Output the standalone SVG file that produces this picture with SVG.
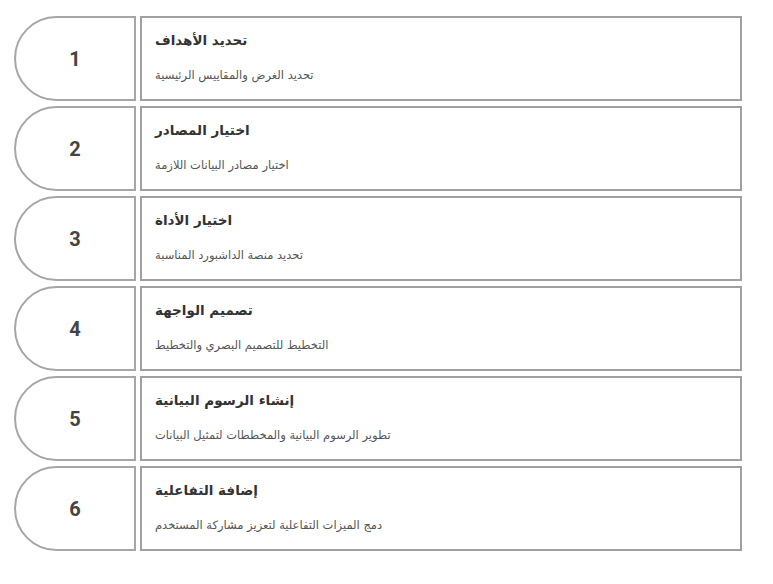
<svg xmlns="http://www.w3.org/2000/svg" width="773" height="584" viewBox="0 0 773 584">
<style>
.pill{fill:#fff;stroke:#a6a6a6;stroke-width:2}
.box{fill:#fff;stroke:#a0a0a0;stroke-width:2}
.num{font-family:Roboto,"Liberation Sans",sans-serif;font-weight:bold;font-size:20px;fill:#444;text-anchor:middle}
.title{font-family:"DejaVu Sans",sans-serif;font-weight:bold;font-size:13.5px;fill:#333}
.sub{font-family:"DejaVu Sans",sans-serif;font-size:11.5px;fill:#555}
</style>
<rect width="773" height="584" fill="#fff"/>
<g id="connectors"></g>
<g id="step1" transform="translate(0,0)">
<path class="pill" d="M135,17 V100 H56.5 A41.5,41.5 0 0 1 56.5,17 Z"/>
<rect class="box" x="141" y="17" width="600" height="83"/>
<text class="num" x="75" y="65.5">1</text>
<text class="title" x="155" y="45">تحديد الأهداف</text>
<text class="sub" x="155" y="79">تحديد الغرض والمقاييس الرئيسية</text>
</g>
<g id="step2" transform="translate(0,90)">
<path class="pill" d="M135,17 V100 H56.5 A41.5,41.5 0 0 1 56.5,17 Z"/>
<rect class="box" x="141" y="17" width="600" height="83"/>
<text class="num" x="75" y="65.5">2</text>
<text class="title" x="155" y="45">اختيار المصادر</text>
<text class="sub" x="155" y="79">اختيار مصادر البيانات اللازمة</text>
</g>
<g id="step3" transform="translate(0,180)">
<path class="pill" d="M135,17 V100 H56.5 A41.5,41.5 0 0 1 56.5,17 Z"/>
<rect class="box" x="141" y="17" width="600" height="83"/>
<text class="num" x="75" y="65.5">3</text>
<text class="title" x="155" y="45">اختيار الأداة</text>
<text class="sub" x="155" y="79">تحديد منصة الداشبورد المناسبة</text>
</g>
<g id="step4" transform="translate(0,270)">
<path class="pill" d="M135,17 V100 H56.5 A41.5,41.5 0 0 1 56.5,17 Z"/>
<rect class="box" x="141" y="17" width="600" height="83"/>
<text class="num" x="75" y="65.5">4</text>
<text class="title" x="155" y="45">تصميم الواجهة</text>
<text class="sub" x="155" y="79">التخطيط للتصميم البصري والتخطيط</text>
</g>
<g id="step5" transform="translate(0,360)">
<path class="pill" d="M135,17 V100 H56.5 A41.5,41.5 0 0 1 56.5,17 Z"/>
<rect class="box" x="141" y="17" width="600" height="83"/>
<text class="num" x="75" y="65.5">5</text>
<text class="title" x="155" y="45">إنشاء الرسوم البيانية</text>
<text class="sub" x="155" y="79">تطوير الرسوم البيانية والمخططات لتمثيل البيانات</text>
</g>
<g id="step6" transform="translate(0,450)">
<path class="pill" d="M135,17 V100 H56.5 A41.5,41.5 0 0 1 56.5,17 Z"/>
<rect class="box" x="141" y="17" width="600" height="83"/>
<text class="num" x="75" y="65.5">6</text>
<text class="title" x="155" y="45">إضافة التفاعلية</text>
<text class="sub" x="155" y="79">دمج الميزات التفاعلية لتعزيز مشاركة المستخدم</text>
</g>
</svg>
